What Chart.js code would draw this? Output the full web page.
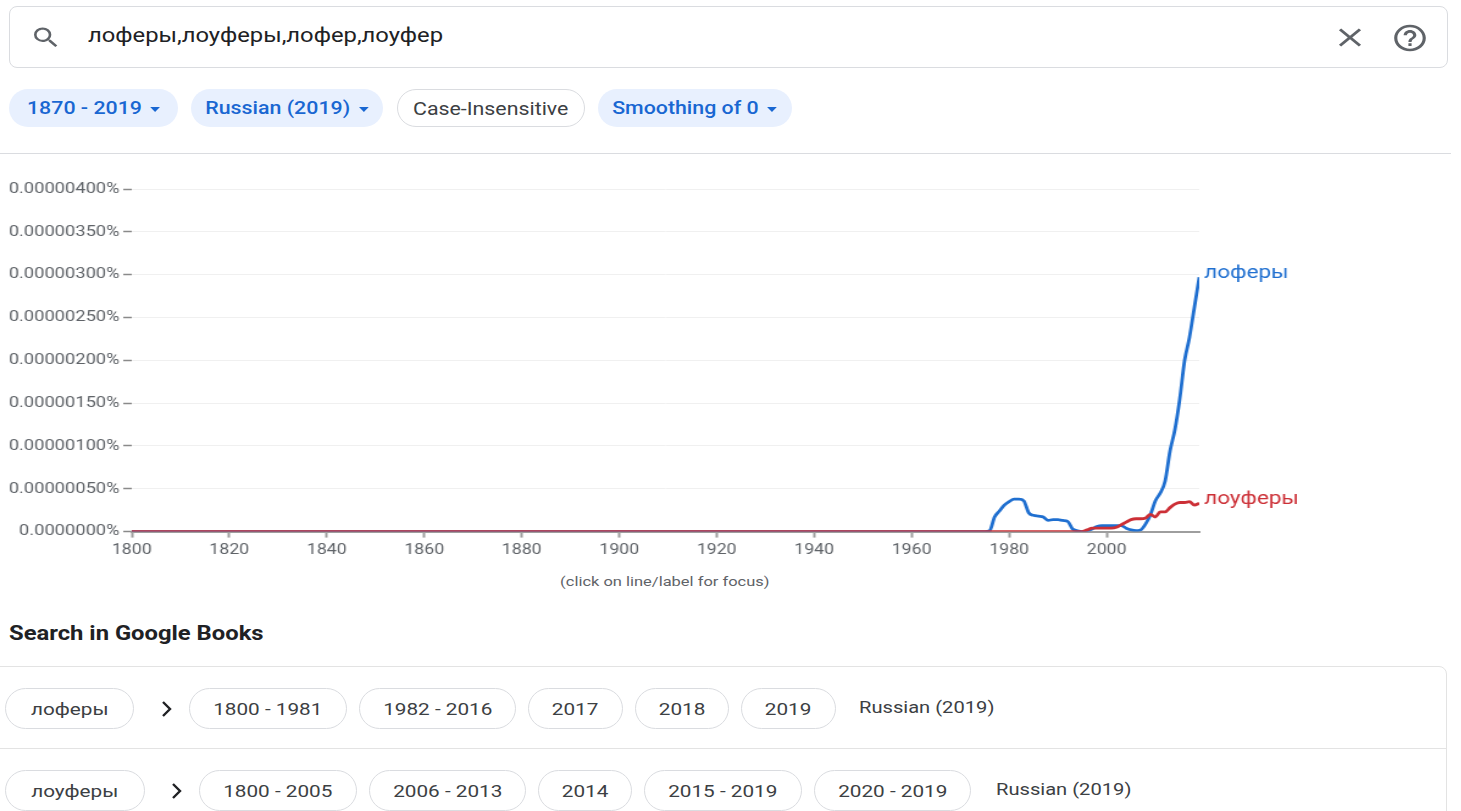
<!DOCTYPE html>
<html>
<head>
<meta charset="utf-8">
<title>лоферы, лоуферы</title>
<script src="https://cdn.jsdelivr.net/npm/chart.js@4/dist/chart.umd.min.js"></script>
<style>
    body {
        margin: 0;
        width: 1461px;
        height: 811px;
        overflow: hidden;
        background: #fff;
        font-family: Roboto, "Noto Sans", sans-serif;
        position: relative;
    }
    .abs { position: absolute; }
    /* the reference is a little wider than tall, so text gets stretched */
    .w { display: inline-block; transform: scaleX(1.22); transform-origin: left center; white-space: nowrap; }
    .w.c { transform-origin: center center; }
    .search-box {
        left: 9px; top: 6px; width: 1437px; height: 60px;
        border: 1px solid #dadce0; border-radius: 8px;
    }
    .query { left: 88px; top: 24px; font-size: 19.5px; color: #202124; }
    .chip {
        position: absolute; height: 38px; line-height: 38px; top: 89px;
        border-radius: 19px; text-align: center; font-size: 17.5px;
        box-sizing: border-box;
    }
    .chip.blue { background: #e8f0fe; color: #1967d2; font-weight: 500; }
    .chip.plain { background: #fff; color: #3c4043; border: 1px solid #dadce0; }
    .caret {
        display: inline-block; width: 0; height: 0; margin-left: 7px; vertical-align: middle;
        border-left: 4.5px solid transparent; border-right: 4.5px solid transparent; border-top: 5px solid #1967d2;
    }
    .divider { left: 0; top: 153px; width: 1451px; height: 1px; background: #dadce0; }
    #chartWrap {
        left: 0; top: 160px; width: 1090px; height: 403px;
        transform: scaleX(1.22); transform-origin: 0 0;
    }
    .hint { left: 465px; top: 573px; width: 400px; text-align: center; font-size: 13.5px; color: #5f6368; }
    .books-title { left: 9px; top: 622px; font-size: 19.5px; font-weight: 700; color: #202124; }
    .books-box {
        left: -1px; top: 666px; width: 1446px; height: 200px;
        border: 1px solid #e3e3e3; border-top-right-radius: 8px;
    }
    .row-line { left: 0; top: 748px; width: 1446px; height: 1px; background: #e3e3e3; }
    .bchip {
        position: absolute; height: 41px; line-height: 40px; box-sizing: border-box;
        border: 1px solid #dadce0; border-radius: 21px; text-align: center;
        font-size: 17px; color: #3c4043; background: #fff;
    }
    .btext { position: absolute; font-size: 16.5px; color: #3c4043; }
    .chev { position: absolute; }
</style>
</head>
<body>

<div class="abs search-box"></div>
<svg class="abs" style="left:30px;top:24px" width="32" height="27" viewBox="0 0 24 24" preserveAspectRatio="none">
    <path fill="#5f6368" d="M15.5 14h-.79l-.28-.27A6.47 6.47 0 0 0 16 9.5 6.5 6.5 0 1 0 9.5 16c1.61 0 3.09-.59 4.23-1.57l.27.28v.79l5 4.99L20.49 19l-4.99-5zm-6 0C7.01 14 5 11.99 5 9.5S7.01 5 9.5 5 14 7.01 14 9.5 11.99 14 9.5 14z"/>
</svg>
<div class="abs query"><span class="w">лоферы,лоуферы,лофер,лоуфер</span></div>
<svg class="abs" style="left:1331px;top:22px" width="38" height="31" viewBox="0 0 24 24" preserveAspectRatio="none">
    <path fill="#5f6368" d="M19 6.41 17.59 5 12 10.59 6.41 5 5 6.41 10.59 12 5 17.59 6.41 19 12 13.41 17.59 19 19 17.59 13.41 12z"/>
</svg>
<svg class="abs" style="left:1391px;top:22px" width="38" height="32" viewBox="0 0 24 24" preserveAspectRatio="none">
    <path fill="#5f6368" d="M11 18h2v-2h-2v2zm1-16C6.48 2 2 6.48 2 12s4.48 10 10 10 10-4.48 10-10S17.52 2 12 2zm0 18c-4.41 0-8-3.590-8-8s3.59-8 8-8 8 3.59 8 8-3.59 8-8 8zm0-14c-2.21 0-4 1.79-4 4h2c0-1.1.9-2 2-2s2 .9 2 2c0 2-3 1.75-3 5h2c0-2.25 3-2.5 3-5 0-2.21-1.790-4-4-4z"/>
</svg>

<div class="chip blue" style="left:9px;width:169px"><span class="w c">1870 - 2019<span class="caret"></span></span></div>
<div class="chip blue" style="left:191px;width:192px"><span class="w c">Russian (2019)<span class="caret"></span></span></div>
<div class="chip plain" style="left:397px;width:188px"><span class="w c">Case-Insensitive</span></div>
<div class="chip blue" style="left:598px;width:194px"><span class="w c">Smoothing of 0<span class="caret"></span></span></div>

<div class="abs divider"></div>

<div id="chartWrap" class="abs"><canvas id="ngramChart"></canvas></div>

<div class="abs hint"><span class="w c">(click on line/label for focus)</span></div>
<div class="abs books-title"><span class="w">Search in Google Books</span></div>

<div class="abs books-box"></div>
<div class="abs row-line"></div>

<div id="bookRows"></div>

<script>
// Year points and values (percent)
var years = [1800, 1970, 1975, 1976, 1977, 1978, 1979, 1980, 1981, 1982, 1983, 1984, 1985, 1986, 1987,
    1988, 1989, 1990, 1991, 1992, 1993, 1994, 1995, 1996, 1997, 1998, 1999, 2000, 2001, 2002, 2003,
    2004, 2005, 2006, 2007, 2008, 2009, 2010, 2011, 2012, 2013, 2014, 2015, 2016, 2017, 2018, 2019];

var loferyValues = [0, 0, 0, 0.00000001, 0.00000017, 0.00000024, 0.00000031, 0.00000035, 0.00000038,
    0.00000038, 0.00000036, 0.00000022, 0.00000019, 0.00000018, 0.00000017, 0.00000013, 0.00000014,
    0.00000014, 0.00000013, 0.00000012, 0.00000003, 0.00000001, 0, 0.00000001, 0.00000003, 0.00000006,
    0.00000007, 0.00000007, 0.00000007, 0.00000007, 0.00000007, 0.00000004, 0.00000002, 0.00000001,
    0.00000002, 0.00000009, 0.0000002, 0.00000036, 0.00000045, 0.00000059, 0.00000094, 0.00000119,
    0.00000155, 0.000002, 0.00000227, 0.00000262, 0.00000297];

var louferyValues = [0, 0, 0, 0, 0, 0, 0, 0, 0, 0, 0, 0, 0, 0, 0, 0, 0, 0, 0, 0, 0, 0, 0,
    0.00000002, 0.00000004, 0.00000004, 0.00000004, 0.00000004, 0.00000004, 0.00000005, 0.00000008,
    0.00000011, 0.00000014, 0.00000015, 0.00000015, 0.00000016, 0.0000002, 0.00000017, 0.00000023,
    0.00000023, 0.00000028, 0.00000032, 0.00000034, 0.00000034, 0.00000035, 0.00000031, 0.00000033];

var seriesNames = ['лоферы', 'лоуферы'];
var seriesColors = ['#1f6fd0', '#cc2f36'];

var xTicks = [1800, 1820, 1840, 1860, 1880, 1900, 1920, 1940, 1960, 1980, 2000];
var yTicks = [0, 0.0000005, 0.000001, 0.0000015, 0.000002, 0.0000025, 0.000003, 0.0000035, 0.000004];

// Google Books rows
var bookRows = [
    { word: 'лоферы', wordWidth: 129, chev: 160, top: 688, lang: 'Russian (2019)', langLeft: 859,
      ranges: [[189, 158, '1800 - 1981'], [359, 157, '1982 - 2016'], [528, 95, '2017'], [635, 94, '2018'], [741, 95, '2019']] },
    { word: 'лоуферы', wordWidth: 140, chev: 170, top: 770, lang: 'Russian (2019)', langLeft: 996,
      ranges: [[199, 158, '1800 - 2005'], [369, 157, '2006 - 2013'], [538, 94, '2014'], [644, 158, '2015 - 2019'], [814, 157, '2020 - 2019']] }
];

document.addEventListener('DOMContentLoaded', function() {
    var holder = document.getElementById('bookRows');
    bookRows.forEach(function(row) {
        var html = '<div class="bchip" style="left:5px;top:' + row.top + 'px;width:' + row.wordWidth + 'px"><span class="w c">' + row.word + '</span></div>';
        html += '<svg class="chev" style="left:' + row.chev + 'px;top:' + (row.top + 11) + 'px" width="14" height="20" viewBox="0 0 14 20">' +
            '<path d="M3 3 L10 10 L3 17" stroke="#202124" stroke-width="2.4" fill="none"/></svg>';
        row.ranges.forEach(function(r) {
            html += '<div class="bchip" style="left:' + r[0] + 'px;top:' + row.top + 'px;width:' + r[1] + 'px"><span class="w c">' + r[2] + '</span></div>';
        });
        html += '<div class="btext" style="left:' + row.langLeft + 'px;top:' + (row.top + 10) + 'px"><span class="w">' + row.lang + '</span></div>';
        holder.insertAdjacentHTML('beforeend', html);
    });

    renderNgramChart();
});

function toPoints(values) {
    return values.map(function(v, i) {
        return { x: years[i], y: v };
    });
}

// writes the series name at the end of each line
var endLabels = {
    id: 'endLabels',
    afterDatasetsDraw: function(chart) {
        var ctx = chart.ctx;
        ctx.save();
        ctx.font = '18.5px Roboto, "Noto Sans", sans-serif';
        ctx.textBaseline = 'middle';
        ctx.textAlign = 'left';
        chart.data.datasets.forEach(function(ds, i) {
            var meta = chart.getDatasetMeta(i);
            var last = meta.data[meta.data.length - 1];
            ctx.fillStyle = ds.borderColor;
            ctx.fillText(ds.label, last.x + 4, last.y - 4);
        });
        ctx.restore();
    }
};

function renderNgramChart() {
    var ctx = document.getElementById('ngramChart').getContext('2d');

    var chart = new Chart(ctx, {
        type: 'line',
        data: {
            datasets: [{
                label: seriesNames[0],
                data: toPoints(loferyValues),
                borderColor: seriesColors[0],
                borderWidth: 2.8,
                pointRadius: 0,
                cubicInterpolationMode: 'monotone',
                order: 2
            }, {
                label: seriesNames[1],
                data: toPoints(louferyValues),
                borderColor: seriesColors[1],
                borderWidth: 2.8,
                pointRadius: 0,
                cubicInterpolationMode: 'monotone',
                order: 1
            }]
        },
        options: {
            responsive: true,
            maintainAspectRatio: false,
            animation: false,
            layout: {
                padding: { top: 29, right: 107, bottom: 0, left: 0 }
            },
            plugins: {
                legend: { display: false },
                tooltip: { enabled: false }
            },
            scales: {
                x: {
                    type: 'linear',
                    min: 1800,
                    max: 2019,
                    afterBuildTicks: function(scale) {
                        scale.ticks = xTicks.map(function(v) { return { value: v }; });
                    },
                    ticks: {
                        color: '#5f6368',
                        font: { family: 'Roboto', size: 14.5 },
                        padding: 4,
                        maxRotation: 0,
                        callback: function(value) { return String(value); }
                    },
                    grid: {
                        drawOnChartArea: false,
                        tickLength: 6,
                        tickColor: '#9e9e9e',
                        tickWidth: 2
                    },
                    border: { display: true, color: '#9e9e9e', width: 2 }
                },
                y: {
                    min: 0,
                    max: 0.000004,
                    afterBuildTicks: function(scale) {
                        scale.ticks = yTicks.map(function(v) { return { value: v }; });
                    },
                    afterFit: function(scale) {
                        scale.width = 108;
                    },
                    ticks: {
                        color: '#5f6368',
                        font: { family: 'Roboto', size: 15 },
                        padding: 3,
                        callback: function(value) {
                            if (value === 0) return '0.0000000%';
                            return value.toFixed(8) + '%';
                        }
                    },
                    grid: {
                        color: '#f0f0f0',
                        tickColor: '#8a8a8a',
                        tickLength: 7,
                        tickWidth: 1.5
                    },
                    border: { display: false }
                }
            }
        },
        plugins: [endLabels]
    });
}
</script>
</body>
</html>
